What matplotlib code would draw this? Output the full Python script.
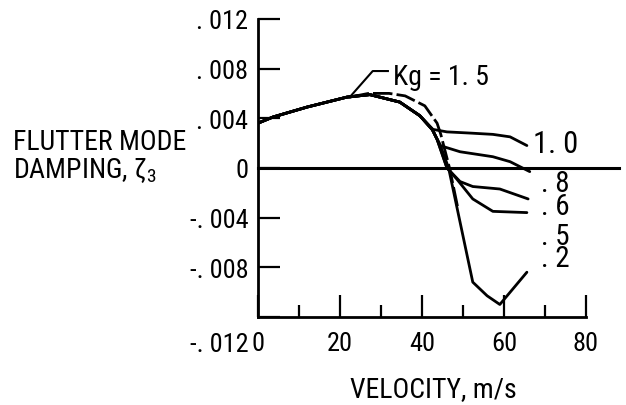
import numpy as np
import matplotlib
matplotlib.use('Agg')
import matplotlib.pyplot as plt
from matplotlib import font_manager as fm
from matplotlib.transforms import ScaledTranslation

# pick a condensed sans if one is around
have = set(f.name for f in fm.fontManager.ttflist)
cands = ['Roboto Condensed', 'PT Sans Narrow', 'Archivo Narrow', 'Liberation Sans Narrow',
         'Fira Sans Condensed', 'IBM Plex Sans Condensed', 'Open Sans Condensed',
         'Encode Sans Condensed', 'Asap Condensed', 'Pragati Narrow', 'DejaVu Sans']
font = next(c for c in cands if c in have)
plt.rcParams['font.family'] = [font, 'DejaVu Sans']
plt.rcParams['mathtext.fontset'] = 'custom'
plt.rcParams['mathtext.rm'] = font
plt.rcParams['mathtext.it'] = font

# common part of all curves (velocity m/s, damping)
v_common = [0, 3.7, 12, 21.7, 27.3, 34.6]
z_common = [0.0036, 0.0041, 0.0049, 0.0057, 0.0059, 0.0053]

# tails for each Kg
v_10 = [39.5, 42.7, 46.1, 52, 57.3, 61.5, 65.6]
z_10 = [0.0042, 0.0031, 0.0029, 0.0028, 0.0027, 0.0025, 0.0018]
v_08 = [39.5, 42.7, 44.4, 49.3, 57.3, 61.5, 66.3]
z_08 = [0.0042, 0.0030, 0.0018, 0.0013, 0.0009, 0.0005, -0.0003]
v_06 = [39.5, 42.5, 43.7, 46.1, 49.3, 52.4, 59, 65.9]
z_06 = [0.0042, 0.0031, 0.0023, 0.0000, -0.0011, -0.0015, -0.0017, -0.0025]
v_05 = [39.5, 42.5, 43.7, 46.1, 48.5, 52.4, 57.3, 65.6]
z_05 = [0.0042, 0.0031, 0.0023, 0.0000, -0.0009, -0.0025, -0.0035, -0.0036]
v_02 = [39.5, 42.5, 44.4, 46.5, 52.4, 55.9, 59, 65.6]
z_02 = [0.0042, 0.0031, 0.0019, 0.0000, -0.0092, -0.0103, -0.0110, -0.0084]
v_15 = [22.4, 27, 32, 35.9, 40.7, 43.7, 44.6, 46.8, 48.8]
z_15 = [0.0057, 0.0060, 0.0060, 0.0058, 0.0050, 0.0036, 0.0027, -0.0001, -0.0033]

yticks = [-0.012, -0.008, -0.004, 0, 0.004, 0.008, 0.012]
ytick_labels = ['-. 012', '-. 008', '-. 004', '0', '. 004', '. 008', '. 012']
xticks = [0, 20, 40, 60, 80]
xminor = [10, 30, 50, 70]

fig = plt.figure(figsize=(6.26, 4.06), dpi=100)
ax = fig.add_axes([0.412, 0.217, 0.524, 0.734])

lw = 2.0
for v, z in [(v_10, z_10), (v_08, z_08), (v_06, z_06), (v_05, z_05), (v_02, z_02)]:
    ax.plot(v_common + v, z_common + z, color='black', lw=lw, solid_capstyle='round')
ax.plot(v_15, z_15, color='black', lw=lw, dashes=(7, 1.5))

# zero line runs past the last tick
ax.plot([0, 88], [0, 0], color='black', lw=2.2, clip_on=False)

ax.set_xlim(0, 80)
ax.set_ylim(-0.012, 0.012)
ax.spines['top'].set_visible(False)
ax.spines['right'].set_visible(False)
ax.spines['left'].set_linewidth(2)
ax.spines['bottom'].set_linewidth(2)

ax.set_yticks(yticks)
ax.set_yticklabels(ytick_labels)
ax.set_xticks(xticks)
ax.set_xticks(xminor, minor=True)
ax.tick_params(axis='y', direction='in', length=16, width=1.6, pad=7, labelsize=19)
ax.tick_params(axis='x', which='major', direction='in', length=16, width=1.6, pad=10, labelsize=19)
ax.tick_params(axis='x', which='minor', direction='in', length=9, width=1.6)

lab = ax.get_yticklabels()[0]
lab.set_transform(lab.get_transform() + ScaledTranslation(0, -18 / 72, fig.dpi_scale_trans))

ax.set_xlabel('VELOCITY, m/s', fontsize=20, va='center')
ax.xaxis.set_label_coords(0.534, -0.242)
ax.set_ylabel('FLUTTER MODE\nDAMPING, ζ$_3$', fontsize=20, rotation=0,
              ha='left', va='center', multialignment='left', linespacing=1.0)
ax.yaxis.set_label_coords(-0.747, 0.54)

# curve labels (the stacked ones are tight, so two per text)
ax.text(67.1, 0.00129, '1. 0', fontsize=22, va='baseline', ha='left')
ax.text(69.0, -0.00008, '. 8\n. 6', fontsize=21, va='top', ha='left', linespacing=0.76)
ax.text(69.0, -0.00436, '. 5\n. 2', fontsize=21, va='top', ha='left', linespacing=0.72)
ax.text(32.9, 0.0074, 'Kg = 1. 5', fontsize=20, va='center', ha='left')
ax.plot([22.4, 28, 31.7], [0.0057, 0.0078, 0.0078], color='black', lw=1.5)

fig.savefig('out.png', dpi=100)
